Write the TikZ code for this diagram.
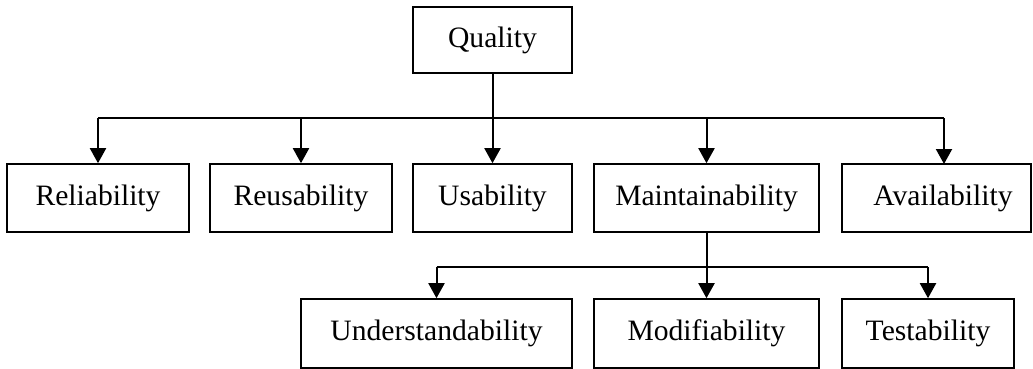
\documentclass[tikz,border=0pt]{standalone}
\usepackage{fontspec}
\setmainfont{Liberation Serif}
\usetikzlibrary{arrows.meta}
\tikzset{
  box/.style={draw, line width=1.6pt, inner sep=0pt, minimum height=68pt, anchor=center,
    font=\fontsize{29.6}{32}\selectfont},
  wire/.style={line width=2pt},
  arr/.style={wire, -{Triangle[width=16pt,length=15pt]}}
}
\begin{document}
\begin{tikzpicture}[x=1pt,y=-1pt]
\useasboundingbox (0,0) rectangle (1033,369);
\node[box, minimum width=159pt, minimum height=66pt] (quality) at (492.5,40) {Quality};
\node[box, minimum width=182pt] (rel) at (98,198) {Reliability};
\node[box, minimum width=182pt] (reus) at (301,198) {Reusability};
\node[box, minimum width=159pt] (usab) at (492.5,198) {Usability};
\node[box, minimum width=225pt] (maint) at (706.5,198) {Maintainability};
\node[box, minimum width=189pt] (avail) at (936.5,198) {\hspace*{13pt}Availability};
\node[box, minimum width=271pt, minimum height=69pt] (under) at (436.5,333.5) {Understandability};
\node[box, minimum width=225pt, minimum height=69pt] (modif) at (706.5,333.5) {Modifiability};
\node[box, minimum width=172pt, minimum height=69pt] (test) at (928,333.5) {Testability};
\coordinate (bus) at (493,118);
\coordinate (availtop) at (944,164);
\coordinate (bus2) at (707,267);
% top level
\draw[wire] (rel.north |- bus) -- (availtop |- bus);
\draw[arr] (quality.south) -- (usab.north);
\draw[arr] (rel.north |- bus) -- (rel.north);
\draw[arr] (reus.north |- bus) -- (reus.north);
\draw[arr] (maint.north |- bus) -- (maint.north);
\draw[arr] (availtop |- bus) -- (availtop);
% second level
\draw[wire] (under.north |- bus2) -- (test.north |- bus2);
\draw[arr] (maint.south) -- (modif.north);
\draw[arr] (under.north |- bus2) -- (under.north);
\draw[arr] (test.north |- bus2) -- (test.north);
\end{tikzpicture}
\end{document}
